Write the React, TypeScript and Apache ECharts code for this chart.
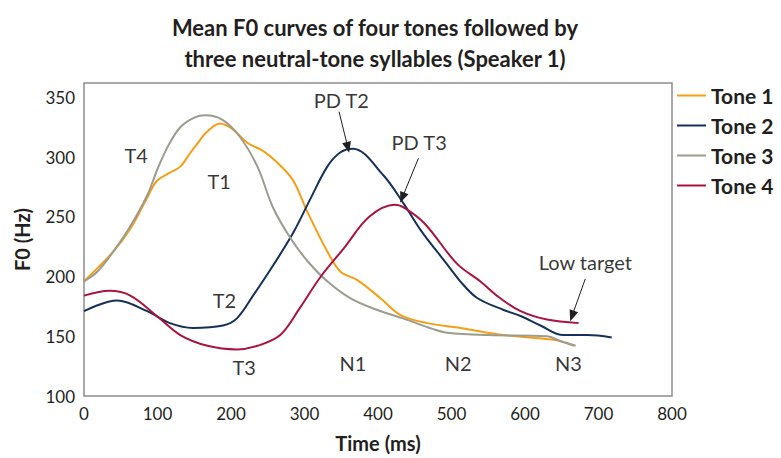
import React, { useEffect, useRef } from "react";
import * as echarts from "echarts";

const titleText = "Mean F0 curves of four tones followed by\nthree neutral-tone syllables (Speaker 1)";
const toneNames = ["Tone 1", "Tone 2", "Tone 3", "Tone 4"];
const toneColors = ["#F59F16", "#15305A", "#9B9B8E", "#A8143F"];

const tone1Time = [0, 40, 63, 86, 99, 117, 131, 144, 154, 167, 185, 203, 222, 244, 267, 285, 304, 331, 349, 372, 403, 430, 467, 512, 571, 639, 666];
const tone1F0 = [196, 221, 240, 266, 280, 287, 292, 303, 311, 321, 328, 323, 312, 305, 293, 280, 254, 221, 204, 197, 182, 168, 161, 157, 151, 147, 142];

const tone2Time = [0, 45, 86, 117, 148, 189, 208, 230, 257, 285, 308, 331, 349, 366, 407, 436, 459, 493, 512, 535, 571, 594, 621, 652, 685, 718];
const tone2F0 = [171, 180, 171, 161, 157, 159, 165, 184, 209, 237, 265, 292, 304, 307, 285, 260, 238, 211, 196, 182, 172, 167, 159, 151, 151, 149];

const tone3Time = [0, 18, 40, 63, 86, 100, 115, 131, 150, 165, 189, 212, 236, 257, 281, 304, 331, 362, 399, 434, 475, 494, 549, 630, 648, 669];
const tone3F0 = [196, 204, 221, 242, 268, 290, 310, 325, 333, 335, 331, 317, 292, 258, 232, 213, 196, 182, 172, 165, 156, 153, 151, 150, 146, 142];

const tone4Time = [0, 35, 63, 99, 131, 168, 208, 236, 267, 294, 321, 354, 388, 423, 437, 464, 507, 539, 566, 594, 630, 673];
const tone4F0 = [184, 188, 184, 167, 151, 142, 139, 142, 151, 174, 199, 224, 250, 260, 257, 244, 211, 196, 182, 171, 164, 161];

const annoText = ["T4", "T1", "T2", "T3", "N1", "N2", "N3", "PD T2", "PD T3", "Low target"];
const annoTime = [71, 184, 191, 218, 366, 509, 659, 350, 456, 682];
const annoF0 = [302, 280, 180, 124, 128, 128, 128, 348, 313, 212];

const arrowFromTime = [347, 455, 682];
const arrowFromF0 = [338, 299, 198];
const arrowToTime = [359, 433, 664];
const arrowToF0 = [308, 266, 167];

const xTicks = { min: 0, max: 800, interval: 100 };
const yTicks = { min: 100, max: 362, interval: 50 };

const FONT = "Lato";
const INK = "#231f20";

export default function App() {
  const ref = useRef<HTMLDivElement>(null);
  useEffect(() => {
    document.body.style.margin = "0";
    if (!ref.current) return;
    const chart = echarts.init(ref.current, null, { renderer: "svg" });
    const times = [tone1Time, tone2Time, tone3Time, tone4Time];
    const f0s = [tone1F0, tone2F0, tone3F0, tone4F0];
    const lineSeries = toneNames.map((name, i) => ({
      name,
      type: "line",
      data: times[i].map((t, j) => [t, f0s[i][j]]),
      smooth: 0.35,
      symbol: "none",
      lineStyle: { color: toneColors[i], width: 2 },
      itemStyle: { color: toneColors[i] },
      silent: true,
      z: 2,
    }));
    const annoSeries = {
      name: "annotations",
      type: "scatter",
      symbolSize: 0,
      silent: true,
      data: annoText.map((txt, i) => ({ name: txt, value: [annoTime[i], annoF0[i]] })),
      label: {
        show: true,
        position: "inside",
        formatter: (p: any) => p.name,
        fontFamily: FONT,
        fontSize: 20,
        color: "#000",
      },
      markLine: {
        silent: true,
        symbol: ["none", "triangle"],
        symbolSize: [9, 11],
        label: { show: false },
        lineStyle: { color: INK, width: 1, type: "solid" },
        data: arrowFromTime.map((t, i) => [
          { coord: [t, arrowFromF0[i]] },
          { coord: [arrowToTime[i], arrowToF0[i]] },
        ]),
      },
      z: 3,
    };
    chart.setOption({
      animation: false,
      title: {
        text: titleText,
        left: 375,
        top: 12,
        padding: 0,
        textAlign: "center",
        textStyle: { fontFamily: FONT, fontWeight: "bold", fontSize: 22, lineHeight: 31, color: INK },
      },
      legend: {
        data: toneNames,
        orient: "vertical",
        left: 677,
        top: 85,
        padding: 0,
        icon: "rect",
        itemWidth: 29,
        itemHeight: 2,
        itemGap: 9,
        selectedMode: false,
        textStyle: { fontFamily: FONT, fontWeight: "bold", fontSize: 21, lineHeight: 20, color: INK },
      },
      grid: { left: 84, right: 109, top: 83, bottom: 59, show: true, borderColor: "#8c8c8c", borderWidth: 1.5 },
      xAxis: {
        type: "value",
        ...xTicks,
        name: "Time (ms)",
        nameLocation: "middle",
        nameGap: 37,
        nameTextStyle: { fontFamily: FONT, fontWeight: "bold", fontSize: 20, color: INK },
        axisLine: { show: false },
        axisTick: { show: false },
        splitLine: { show: false },
        axisLabel: { fontFamily: FONT, fontSize: 17, color: INK, margin: 9 },
      },
      yAxis: {
        type: "value",
        ...yTicks,
        name: "F0 (Hz)",
        nameLocation: "middle",
        nameGap: 52,
        nameTextStyle: { fontFamily: FONT, fontWeight: "bold", fontSize: 20, color: INK },
        axisLine: { show: false },
        axisTick: { show: false },
        splitLine: { show: false },
        axisLabel: {
          fontFamily: FONT,
          fontSize: 17,
          color: INK,
          margin: 9,
          formatter: (v: number) => (v % 50 === 0 ? String(v) : ""),
        },
      },
      series: [...lineSeries, annoSeries],
    });
    return () => chart.dispose();
  }, []);
  return <div ref={ref} style={{ width: 781, height: 458 }} />;
}
